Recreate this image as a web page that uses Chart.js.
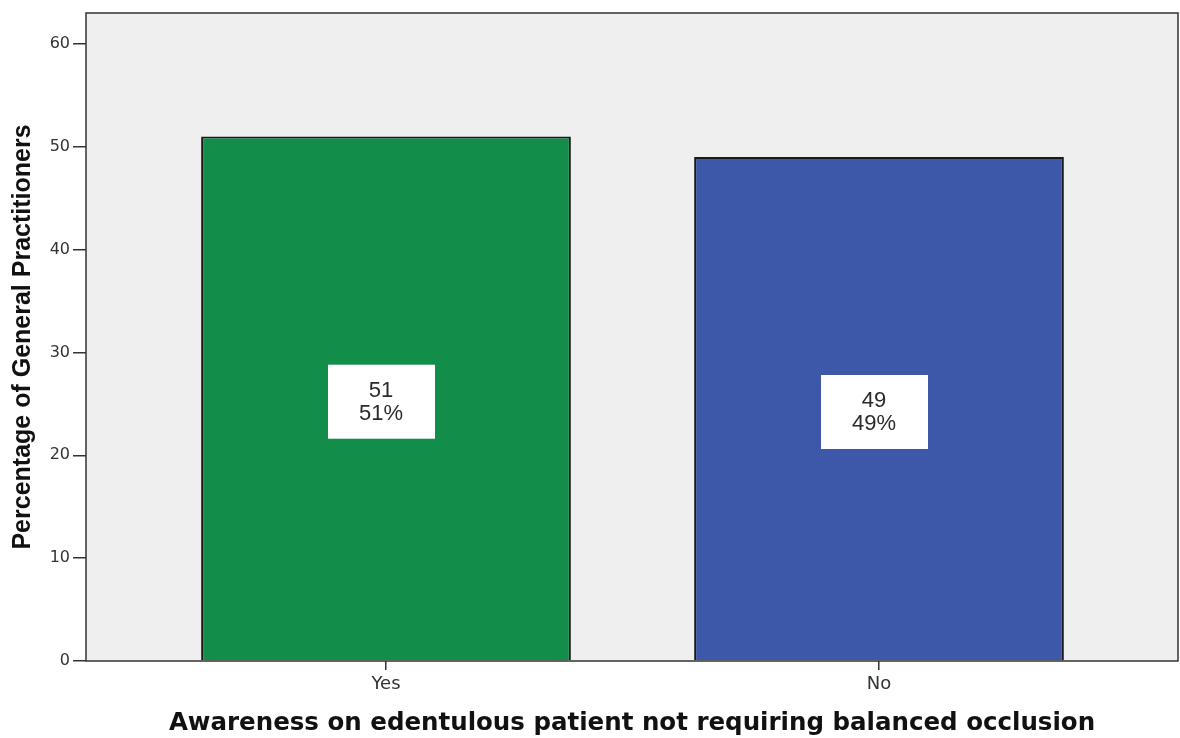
<!DOCTYPE html>
<html>
<head>
<meta charset="utf-8">
<script src="https://cdn.jsdelivr.net/npm/chart.js@4"></script>
<style>
html, body { margin: 0; padding: 0; background: #fff; }
#wrap { width: 1180px; height: 738px; }
</style>
</head>
<body>
<div id="wrap"><canvas id="awarenessChart" width="1180" height="738"></canvas></div>
<script>
// values
var categories = ['Yes', 'No'];
var counts = [51, 49];
var percents = [51, 49];
var barColors = ['#138d4a', '#3d58a9'];
var yTicks = [0, 10, 20, 30, 40, 50, 60];

// grey plot background + frame round the plot area
var framePlugin = {
	id: 'frame',
	beforeDraw: function(chart) {
		var a = chart.chartArea, c = chart.ctx;
		c.save();
		c.fillStyle = '#efefef';
		c.fillRect(a.left, a.top, a.right - a.left, a.bottom - a.top);
		c.restore();
	},
	afterDatasetsDraw: function(chart) {
		var a = chart.chartArea, c = chart.ctx;
		c.save();
		c.strokeStyle = '#333';
		c.lineWidth = 1.5;
		c.strokeRect(a.left, a.top, a.right - a.left, a.bottom - a.top);
		c.restore();
	}
};

// white boxes with count / percent in the middle of each bar
var boxPlugin = {
	id: 'boxes',
	afterDatasetsDraw: function(chart) {
		var c = chart.ctx;
		var xs = chart.scales.x, ys = chart.scales.y;
		c.save();
		for (var i = 0; i < categories.length; i++) {
			var cx = xs.getPixelForValue(i) - 5;
			var cy = ys.getPixelForValue(counts[i] / 2) + 3;
			c.fillStyle = '#fff';
			c.fillRect(cx - 53, cy - 37, 107, 74);
			c.fillStyle = '#2a2a2a';
			c.font = '22px "Liberation Sans", Arial, sans-serif';
			c.textAlign = 'center';
			c.textBaseline = 'middle';
			c.fillText(String(counts[i]), cx, cy - 11);
			c.fillText(percents[i] + '%', cx, cy + 12);
		}
		c.restore();
	}
};

function buildChart() {
	var ctx = document.getElementById('awarenessChart');
	var chart = new Chart(ctx, {
		type: 'bar',
		data: {
			datasets: [{
				label: 'Percentage',
				data: categories.map(function(cat, i) { return { x: i, y: percents[i] }; }),
				backgroundColor: barColors,
				borderColor: '#1a1a1a',
				borderWidth: 2,
				categoryPercentage: 1,
				barPercentage: 0.75
			}]
		},
		options: {
			responsive: false,
			animation: false,
			layout: { padding: { left: 0, top: 13, right: 2, bottom: 0 } },
			plugins: {
				legend: { display: false },
				tooltip: { enabled: false }
			},
			scales: {
				x: {
					type: 'linear',
					offset: false,
					min: -0.6085,
					max: 1.6065,
					afterBuildTicks: function(s) {
						s.ticks = categories.map(function(cat, i) { return { value: i }; });
					},
					afterFit: function(s) { s.height = 77; },
					grid: { display: true, offset: false, drawOnChartArea: false, drawTicks: true, tickLength: 9, color: '#333', lineWidth: 1.5 },
					border: { display: false },
					ticks: {
						color: '#333',
						padding: 4,
						font: { family: '"DejaVu Sans", Verdana, sans-serif', size: 18 },
						callback: function(v) { return categories[v]; }
					},
					title: {
						display: true,
						text: 'Awareness on edentulous patient not requiring balanced occlusion',
						color: '#111',
						padding: { top: 2, bottom: 0 },
						font: { family: '"DejaVu Sans", Verdana, sans-serif', size: 24.5, weight: 'bold' }
					}
				},
				y: {
					min: 0,
					max: 63,
					afterBuildTicks: function(s) {
						s.ticks = yTicks.map(function(v) { return { value: v }; });
					},
					afterFit: function(s) { s.width = 86; },
					grid: { display: true, drawOnChartArea: false, drawTicks: true, tickLength: 13, color: '#333', lineWidth: 1.5 },
					border: { display: false },
					ticks: {
						color: '#333',
						padding: 3,
						font: { family: '"DejaVu Sans", Verdana, sans-serif', size: 16 }
					},
					title: {
						display: true,
						text: 'Percentage of General Practitioners',
						color: '#111',
						padding: { top: 8, bottom: 2 },
						font: { family: '"Liberation Sans", Arial, sans-serif', size: 25, weight: 'bold' }
					}
				}
			}
		},
		plugins: [framePlugin, boxPlugin]
	});
	return chart;
}

window.awarenessChart = buildChart();
</script>
</body>
</html>
